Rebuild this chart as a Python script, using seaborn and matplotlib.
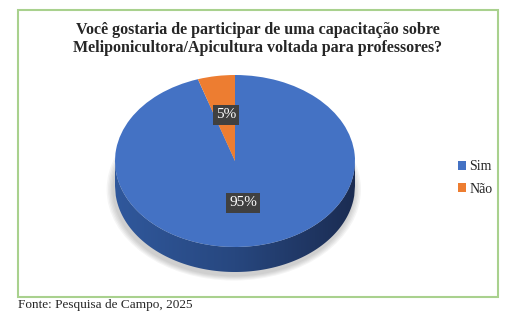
import numpy as np
import matplotlib
matplotlib.use("Agg")
import matplotlib.pyplot as plt
import seaborn as sns
from matplotlib.patches import Rectangle, Polygon, Ellipse
from matplotlib.colors import LinearSegmentedColormap

# ---- data ----
categories = ["Sim", "Não"]
values = [95, 5]
pct_labels = ["95%", "5%"]
title = "Você gostaria de participar de uma capacitação sobre\nMeliponicultora/Apicultura voltada para professores?"
source = "Fonte: Pesquisa de Campo, 2025"
colors = ["#4472C4", "#ED7D31"]

sns.set_theme(style="white")
plt.rcParams["font.family"] = ["Liberation Serif", "DejaVu Serif"]

W, H = 510, 320
fig = plt.figure(figsize=(W / 100, H / 100), dpi=100)
fig.patch.set_facecolor("white")

def fx(px):
    return px / W

def fy(py):
    return 1 - py / H

# green border
fig.patches.append(Rectangle((fx(18), fy(297)), fx(498) - fx(18), fy(10) - fy(297),
                             transform=fig.transFigure, fill=False,
                             edgecolor="#A9D18E", linewidth=1.5))

fig.text(fx(258), fy(39), title, ha="center", va="center", fontsize=11.5,
         fontweight="bold", linespacing=1.12)
fig.text(fx(18), fy(305), source, ha="left", va="center", fontsize=9.5)

# pie axes: face semi-axes 120 x 86 px, depth 25 px
a_px, b_px, d_px = 120, 86, 25
cx, cy = 235, 161
d = d_px / b_px
left, right = cx - a_px, cx + a_px
top, bottom = cy - b_px, cy + b_px + d_px
ax = fig.add_axes([fx(left), fy(bottom), (right - left) / W, (bottom - top) / H])
ax.set_facecolor("none")

# soft shadow (subtle, mostly under the side)
for i in range(5):
    s = 1.0 + 0.012 * (i + 1)
    e = Ellipse((-0.01, -d - 0.04), 2 * s, 2 * s, facecolor="#000000",
                alpha=0.04, edgecolor="none", zorder=0, clip_on=False)
    ax.add_patch(e)

# side of the 3D pie
xs = np.linspace(-1, 1, 300)
ytop = -np.sqrt(np.clip(1 - xs ** 2, 0, None))
side = np.concatenate([np.column_stack([xs, ytop]),
                       np.column_stack([xs[::-1], ytop[::-1] - d])])
poly = Polygon(side, closed=True, facecolor="none", edgecolor="none")
ax.add_patch(poly)
cmap = LinearSegmentedColormap.from_list("side", ["#30589c", "#27477f", "#1b2c52"])
grad = np.linspace(0, 1, 256).reshape(1, -1)
im = ax.imshow(grad, cmap=cmap, extent=(-1, 1, -1 - d, 0), aspect="auto", zorder=1)
im.set_clip_path(poly)

wedges, _ = ax.pie(values, colors=colors, startangle=108, counterclock=True,
                   radius=1, wedgeprops=dict(linewidth=0))
for w in wedges:
    w.set_zorder(2)
ax.set_aspect("auto")
ax.set_xlim(-1, 1)
ax.set_ylim(-1 - d, 1)
ax.axis("off")

# data labels
label_pos = {"95%": ((243 - cx) / a_px, (cy - 203) / b_px),
             "5%": ((226 - cx) / a_px, (cy - 115) / b_px)}
for lab in pct_labels:
    x, y = label_pos[lab]
    ax.text(x, y, lab, ha="center", va="center", color="white", fontsize=11,
            zorder=5,
            bbox=dict(boxstyle="square,pad=0.22", facecolor="#404040", edgecolor="none"))

leg = fig.legend(wedges, categories, loc="center left",
                 bbox_to_anchor=(fx(446), fy(178)), frameon=False,
                 handlelength=0.55, handleheight=0.55, handletextpad=0.25,
                 labelspacing=0.65, fontsize=10)

fig.savefig("out.png", dpi=100, facecolor="white")
